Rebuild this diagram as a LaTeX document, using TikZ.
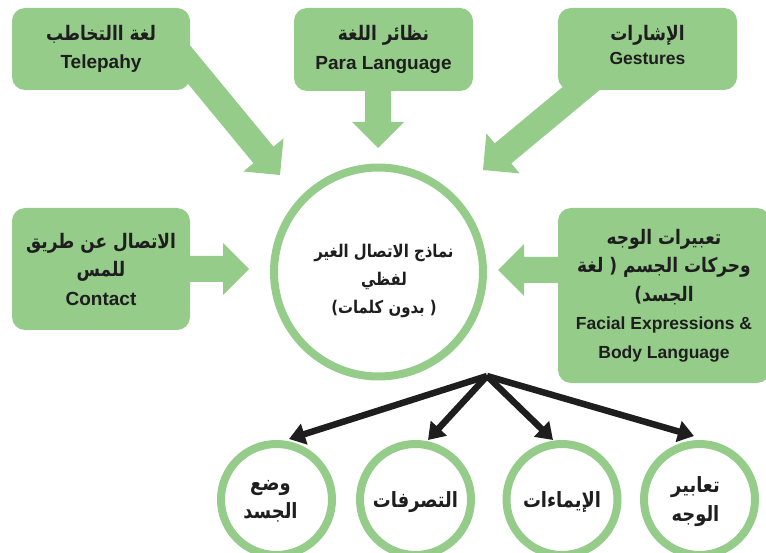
\documentclass[tikz,border=0pt]{standalone}
\usepackage{fontspec}
\setmainfont{Liberation Sans}
\newfontfamily\arfont[Script=Arabic, FakeStretch=0.85]{DejaVu Sans}
\TeXXeTstate=1
\usetikzlibrary{calc,arrows.meta}

\definecolor{leaf}{RGB}{149,204,138}
\definecolor{ink}{RGB}{30,30,30}

% one right-to-left Arabic line, at size \arsize
\newcommand\arsize{20}
\newcommand\ar[1]{{\arfont\bfseries\fontsize{\arsize}{28.5}\selectfont\beginR #1\endR}}

% broad green arrow from coordinate #1 to tip #2
\newcommand\fatarrow[2]{%
  \coordinate (#1-#2-b) at ($(#2)!26pt!(#1)$);
  \fill[leaf] ($(#1)!13pt!90:(#2)$) -- ($(#1-#2-b)!13pt!90:(#2)$)
    -- ($(#1-#2-b)!26pt!90:(#2)$) -- (#2)
    -- ($(#1-#2-b)!26pt!-90:(#2)$) -- ($(#1-#2-b)!13pt!-90:(#2)$)
    -- ($(#1)!13pt!-90:(#2)$) -- cycle;}

\tikzset{
  boxtext/.style={inner sep=0pt, align=center, text=ink,
    font=\bfseries\fontsize{19}{28.5}\selectfont},
  box/.style={boxtext, fill=leaf, rounded corners=13pt},
  hubcircle/.style={circle, draw=leaf, line width=8pt, fill=white, inner sep=0pt},
  leafcircle/.style={hubcircle, minimum size=111pt},
  leaftext/.style={boxtext, font=\bfseries\fontsize{19}{28.5}\selectfont\renewcommand\arsize{21}},
  branch/.style={draw=ink, line width=6.5pt, -{Triangle[length=16pt,width=21pt]}}
}

\begin{document}
\begin{tikzpicture}[x=1pt,y=-1pt]
  \clip (0,0) rectangle (766,553);
  \fill[white] (0,0) rectangle (766,553);

  % arrow ends
  \coordinate (s1) at (177,50);  \coordinate (t1) at (280,175);
  \coordinate (s2) at (378,80);  \coordinate (t2) at (378,148);
  \coordinate (s3) at (595,77);  \coordinate (t3) at (483,170);
  \coordinate (s4) at (180,269); \coordinate (t4) at (249,269);
  \coordinate (s5) at (570,270); \coordinate (t5) at (498,270);

  \fatarrow{s1}{t1}
  \fatarrow{s2}{t2}
  \fatarrow{s3}{t3}
  \fatarrow{s4}{t4}
  \fatarrow{s5}{t5}

  % source boxes
  \node[box, minimum width=178pt, minimum height=82pt] (tele) at (101,49)
    {\ar{لغة االتخاطب}\\ Telepahy};
  \node[box, minimum width=179pt, minimum height=83pt] (para) at (383.5,49.5)
    {\ar{نظائر اللغة}\\ Para Language};
  \node[box, minimum width=179pt, minimum height=82pt] (gest) at (647.5,49) {};
  \node[boxtext] (gest-text) at ([yshift=4pt]gest.center)
    {\ar{الإشارات}\\[-4pt] {\fontsize{17.5}{24}\selectfont Gestures}};
  \node[box, minimum width=178pt, minimum height=122pt] (cont) at (101,269)
    {\ar{الاتصال عن طريق}\\ \ar{للمس}\\ Contact};
  \node[box, minimum width=212pt, minimum height=175pt] (face) at (664,295.5)
    {\ar{تعبيرات الوجه}\\ \ar{وحركات الجسم ( لغة}\\ \ar{الجسد)}\\
     {\fontsize{17.5}{28.5}\selectfont Facial Expressions \&}\\
     {\fontsize{17.5}{28.5}\selectfont Body Language}};

  % central idea
  \node[hubcircle, minimum size=209pt] (core) at (378.5,272) {};
  \node[boxtext, font=\bfseries\fontsize{17.5}{28}\selectfont\renewcommand\arsize{17.5}]
    (core-text) at (384,281)
    {\ar{نماذج الاتصال الغير}\\ \ar{لفظي}\\ \ar{( بدون كلمات)}};

  % branches to the kinds of body language
  \coordinate (hub) at (487,376);
  \coordinate (b1) at (289,439);
  \coordinate (b2) at (428,440);
  \coordinate (b3) at (553,440);
  \coordinate (b4) at (694,436);
  \draw[branch] (hub) -- (b1);
  \draw[branch] (hub) -- (b2);
  \draw[branch] (hub) -- (b3);
  \draw[branch] (hub) -- (b4);

  \node[leafcircle] (pose)  at (276.5,499.5) {};
  \node[leafcircle] (acts)  at (415.5,499.5) {};
  \node[leafcircle] (nods)  at (562,499.5)   {};
  \node[leafcircle] (faces) at (699.5,499.5) {};
  \node[leaftext] (pose-text)  at ([xshift=-6pt,yshift=-2pt]pose.center) {\ar{وضع}\\ \ar{الجسد}};
  \node[leaftext] (acts-text)  at ([yshift=-3pt]acts.center)  {\ar{التصرفات}};
  \node[leaftext] (nods-text)  at ([yshift=-3pt]nods.center)  {\ar{الإيماءات}};
  \node[leaftext] (faces-text) at ([xshift=-4pt,yshift=-2pt]faces.center) {\ar{تعابير}\\ \ar{الوجه}};
\end{tikzpicture}
\end{document}
